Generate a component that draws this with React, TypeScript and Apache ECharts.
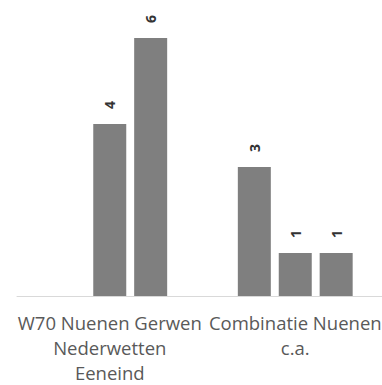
import React, { useEffect, useRef } from "react";
import * as echarts from "echarts";

const categories = ["W70 Nuenen Gerwen\nNederwetten\nEeneind", "Combinatie Nuenen\nc.a."];
const seriesA: (number | null)[] = [null, 3];
const seriesB: (number | null)[] = [4, 1];
const seriesC: (number | null)[] = [6, 1];

const FONT = "Open Sans";

export default function App() {
  const ref = useRef<HTMLDivElement>(null);
  useEffect(() => {
    if (!ref.current) return;
    const chart = echarts.init(ref.current, undefined, { renderer: "svg" });
    const mk = (name: string, data: (number | null)[]) => ({
      name,
      type: "bar" as const,
      data,
      barWidth: 33,
      barGap: "24%",
      itemStyle: { color: "#7f7f7f" },
      label: {
        show: true,
        position: "top",
        rotate: 90,
        align: "left",
        verticalAlign: "middle",
        distance: 15,
        fontSize: 14,
        fontWeight: "bold",
        color: "#333333",
        fontFamily: FONT,
      },
    });
    chart.setOption({
      animation: false,
      grid: { left: 17, top: 38, width: 371, height: 258, containLabel: false },
      xAxis: {
        type: "category",
        data: categories,
        axisLine: { show: true, lineStyle: { color: "#d9d9d9", width: 1 } },
        axisTick: { show: false },
        axisLabel: {
          interval: 0,
          margin: 13.5,
          fontSize: 18.5,
          lineHeight: 25,
          color: "#595959",
          fontFamily: FONT,
        },
      },
      yAxis: { type: "value", min: 0, max: 6, show: false, splitLine: { show: false } },
      series: [mk("A", seriesA), mk("B", seriesB), mk("C", seriesC)],
    });
    return () => chart.dispose();
  }, []);
  return (
    <div style={{ position: "fixed", left: 0, top: 0, width: 382, height: 385, overflow: "hidden", background: "#fff" }}>
      <div ref={ref} style={{ width: 392, height: 385 }} />
    </div>
  );
}
